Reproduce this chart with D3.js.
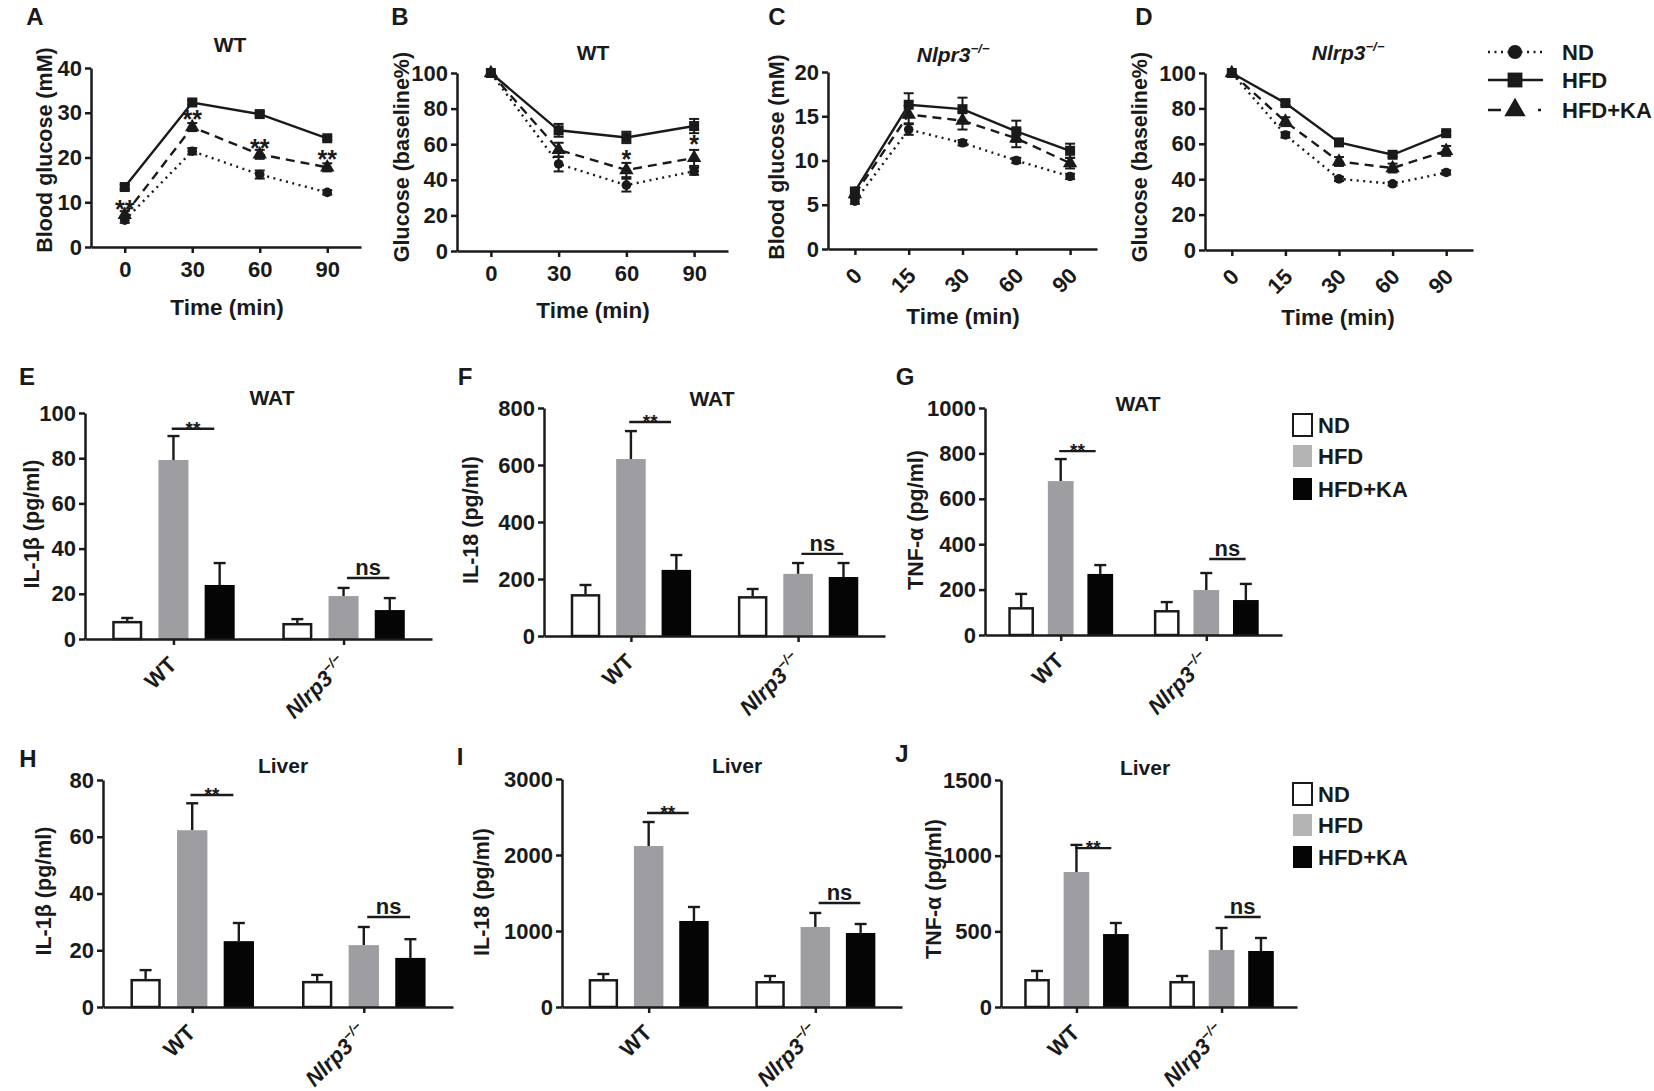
<!DOCTYPE html>
<html lang="en">
<head>
<meta charset="UTF-8">
<title>Glucose tolerance and cytokines</title>
<style>
  body { margin: 0; background: #fff; }
  svg text { font-family: "Liberation Sans", Arial, Helvetica, sans-serif; font-weight: bold; fill: #1a1a1a; }
</style>
</head>
<body>
<svg id="svg" width="1654" height="1091"></svg>

<script src="https://d3js.org/d3.v7.min.js"></script>
<script>
// ------ DATA ------------------------
const seriesNames = ['ND', 'HFD', 'HFD+KA']
const timesWT = [0, 30, 60, 90]
const timesKO = ['0', '15', '30', '60', '90']
const barGroups = ['WT', 'Nlrp3']

// A - WT blood glucose (mM)
const aTicks = [0, 10, 20, 30, 40]
const aND = [6.0, 21.4, 16.2, 12.2]
const aNDErr = [0.6, 0.7, 0.9, 0.5]
const aHFD = [13.4, 32.3, 29.7, 24.3]
const aHFDErr = [0.5, 0.5, 0.5, 0.4]
const aKA = [7.2, 26.8, 20.7, 17.8]
const aKAErr = [0.8, 0.9, 1.0, 0.9]
const aStars = [8.8, 28.9, 22.4, 19.8]

// B - WT glucose (% of baseline)
const bTicks = [0, 20, 40, 60, 80, 100]
const bND = [100, 48.9, 37.0, 44.8]
const bNDErr = [0, 4.2, 3.6, 2.0]
const bHFD = [100, 67.8, 63.8, 70.2]
const bHFDErr = [0, 3.6, 3.2, 4.0]
const bKA = [100, 56.8, 45.5, 52.3]
const bKAErr = [0, 4.0, 4.0, 4.5]
const bStars = [null, null, 52, 60.7]

// C - Nlrp3-/- blood glucose (mM)
const cTicks = [0, 5, 10, 15, 20]
const cND = [5.4, 13.5, 12.0, 10.0, 8.2]
const cNDErr = [0.3, 0.6, 0.3, 0.3, 0.3]
const cHFD = [6.5, 16.3, 15.8, 13.3, 11.1]
const cHFDErr = [0.4, 1.3, 1.3, 1.2, 0.8]
const cKA = [6.2, 15.2, 14.5, 12.5, 9.7]
const cKAErr = [0.4, 1.0, 1.0, 1.0, 0.6]

// D - Nlrp3-/- glucose (% of baseline)
const dTicks = [0, 20, 40, 60, 80, 100]
const dND = [100, 65, 40.2, 37.4, 43.8]
const dNDErr = [0, 1.5, 1.2, 1.0, 1.2]
const dHFD = [100, 83, 60.8, 53.8, 66]
const dHFDErr = [0, 1.0, 1.2, 1.2, 1.2]
const dKA = [100, 72.5, 50, 46.3, 56]
const dKAErr = [0, 2.5, 2.5, 2.5, 2.8]

// E-J bars, rows: WT, Nlrp3-/- ; columns: ND, HFD, HFD+KA
const eTicks = [0, 20, 40, 60, 80, 100]
const eMean = [[8.0, 79.2, 23.9], [7.1, 19.0, 12.8]]
const eErr = [[1.3, 10.6, 9.7], [1.7, 3.6, 5.3]]
const eSig = [93, 27]

const fTicks = [0, 200, 400, 600, 800]
const fMean = [[147, 621, 232], [140, 218, 207]]
const fErr = [[32, 98, 52], [25, 38, 49]]
const fSig = [751, 288]

const gTicks = [0, 200, 400, 600, 800, 1000]
const gMean = [[123, 678, 269], [110, 198, 154]]
const gErr = [[58, 97, 39], [35, 75, 71]]
const gSig = [810, 335]

const hTicks = [0, 20, 40, 60, 80]
const hMean = [[9.9, 62.3, 23.2], [9.2, 21.8, 17.3]]
const hErr = [[3.1, 9.5, 6.4], [2.1, 6.4, 6.6]]
const hSig = [74.7, 31.7]

const iTicks = [0, 1000, 2000, 3000]
const iMean = [[368, 2118, 1132], [342, 1053, 974]]
const iErr = [[66, 316, 184], [66, 184, 118]]
const iSig = [2553, 1368]

const jTicks = [0, 500, 1000, 1500]
const jMean = [[185, 892, 482], [172, 377, 370]]
const jErr = [[53, 179, 73], [33, 145, 86]]
const jSig = [1050, 595]

// ------ STYLE ------------------------
const INK = '#1a1a1a'
const TICK_FONT = 22
const lineStyle = {
  'ND': { dash: '2,4.5', symbol: d3.symbolCircle, size: 72 },
  'HFD': { dash: null, symbol: d3.symbolSquare, size: 100 },
  'HFD+KA': { dash: '9,6', symbol: d3.symbolTriangle, size: 90 }
}
const barFill = { 'ND': '#ffffff', 'HFD': '#9e9ea2', 'HFD+KA': '#050505' }
const legendFill = { 'ND': '#ffffff', 'HFD': '#b4b4b4', 'HFD+KA': '#050505' }

const svg = d3.select('#svg')

function styleAxis(sel) {
  sel.attr('font-size', TICK_FONT).attr('font-family', null)
  sel.select('.domain').attr('stroke', INK).attr('stroke-width', 2.5)
  sel.selectAll('.tick line').attr('stroke', INK).attr('stroke-width', 2.5)
  sel.selectAll('.tick text').attr('fill', INK)
}

function label(x, y, str, size, anchor = 'middle') {
  return svg.append('text').attr('x', x).attr('y', y)
    .attr('font-size', size).attr('text-anchor', anchor).text(str)
}

// italic gene name with a small -/- superscript
function geneText(sel, name, size) {
  sel.append('tspan').attr('font-style', 'italic').attr('font-size', size).text(name)
  sel.append('tspan').attr('font-style', 'italic').attr('font-size', size * 0.62)
    .attr('dy', -size * 0.42).text('\u2212/\u2212')
}

function yTitle(x, y, str) {
  svg.append('text').attr('transform', `translate(${x},${y}) rotate(-90)`)
    .attr('text-anchor', 'middle').attr('font-size', 21.5).text(str)
}

// ------ LINE CHARTS (A-D) ------------------------
function lineChart(c) {
  const g = svg.append('g')
  const y = d3.scaleLinear().domain([0, c.yTicks[c.yTicks.length - 1]]).range([c.bottom, c.top])
  const x = c.linear
    ? d3.scaleLinear().domain([-15, 105]).range([c.left, c.right])
    : d3.scalePoint().domain(c.times).range([c.left, c.right]).padding(0.5)

  c.series.forEach(s => {
    const st = lineStyle[s.name]
    const pts = c.times.map((t, i) => ({ x: x(t), v: s.mean[i], e: s.err[i] }))
    g.append('path').datum(pts)
      .attr('fill', 'none').attr('stroke', INK).attr('stroke-width', 2.4)
      .attr('stroke-dasharray', st.dash)
      .attr('d', d3.line().x(d => d.x).y(d => y(d.v)))
    const eb = g.append('g').attr('stroke', INK).attr('stroke-width', 2)
      .selectAll('g').data(pts.filter(d => d.e > 0)).join('g')
    eb.append('line').attr('x1', d => d.x).attr('x2', d => d.x)
      .attr('y1', d => y(d.v - d.e)).attr('y2', d => y(d.v + d.e))
    eb.append('line').attr('x1', d => d.x - 5).attr('x2', d => d.x + 5)
      .attr('y1', d => y(d.v + d.e)).attr('y2', d => y(d.v + d.e))
    eb.append('line').attr('x1', d => d.x - 5).attr('x2', d => d.x + 5)
      .attr('y1', d => y(d.v - d.e)).attr('y2', d => y(d.v - d.e))
    g.append('g').selectAll('path').data(pts).join('path')
      .attr('transform', d => `translate(${d.x},${y(d.v)})`)
      .attr('d', d3.symbol().type(st.symbol).size(st.size))
      .attr('fill', INK)
  })

  if (c.stars) {
    c.stars.forEach((v, i) => {
      if (v === null) return
      g.append('text').attr('x', x(c.times[i])).attr('y', y(v) + 10)
        .attr('text-anchor', 'middle').attr('font-size', 25).attr('font-weight', 'normal')
        .text(c.starText)
    })
  }

  const ya = g.append('g').attr('transform', `translate(${c.left},0)`)
    .call(d3.axisLeft(y).tickValues(c.yTicks).tickSize(6).tickPadding(3).tickSizeOuter(0)
      .tickFormat(d3.format('d')))
  styleAxis(ya)
  const xa = g.append('g').attr('transform', `translate(0,${c.bottom})`)
    .call(d3.axisBottom(x).tickValues(c.times).tickSize(6).tickPadding(8).tickSizeOuter(0))
  styleAxis(xa)
  if (!c.linear) {
    xa.selectAll('.tick text').attr('y', 0).attr('dy', 0).attr('text-anchor', 'end')
      .attr('transform', 'translate(8,28) rotate(-45)')
  }

  label(c.lx, c.ly, c.letter, 24)
  const t = svg.append('text').attr('x', c.tx).attr('y', c.ty).attr('text-anchor', 'middle')
  if (c.gene) geneText(t, c.title, 21)
  else t.attr('font-size', 21).text(c.title)
  yTitle(c.ytx, c.yty, c.ylabel)
  label(c.xtx, c.xty, 'Time (min)', 22.5)
}

const mk = (n, m, e) => ({ name: n, mean: m, err: e })

lineChart({ letter: 'A', lx: 35, ly: 25, title: 'WT', tx: 230, ty: 52,
  ylabel: 'Blood glucose (mM)', ytx: 52, yty: 150, xtx: 227, xty: 315,
  left: 91, right: 361, top: 68, bottom: 247, linear: true, times: timesWT, yTicks: aTicks,
  series: [mk('ND', aND, aNDErr), mk('HFD+KA', aKA, aKAErr), mk('HFD', aHFD, aHFDErr)],
  stars: aStars, starText: '**' })

lineChart({ letter: 'B', lx: 400, ly: 25, title: 'WT', tx: 593, ty: 60,
  ylabel: 'Glucose (baseline%)', ytx: 409, yty: 157, xtx: 593, xty: 318,
  left: 457, right: 728, top: 73, bottom: 251, linear: true, times: timesWT, yTicks: bTicks,
  series: [mk('ND', bND, bNDErr), mk('HFD+KA', bKA, bKAErr), mk('HFD', bHFD, bHFDErr)],
  stars: bStars, starText: '*' })

lineChart({ letter: 'C', lx: 777, ly: 25, title: 'Nlpr3', gene: true, tx: 953, ty: 62,
  ylabel: 'Blood glucose (mM)', ytx: 784, yty: 157, xtx: 963, xty: 324,
  left: 828, right: 1097, top: 72, bottom: 249, linear: false, times: timesKO, yTicks: cTicks,
  series: [mk('ND', cND, cNDErr), mk('HFD+KA', cKA, cKAErr), mk('HFD', cHFD, cHFDErr)] })

lineChart({ letter: 'D', lx: 1144, ly: 25, title: 'Nlrp3', gene: true, tx: 1348, ty: 60,
  ylabel: 'Glucose (baseline%)', ytx: 1147, yty: 157, xtx: 1338, xty: 325,
  left: 1205, right: 1473, top: 73, bottom: 250, linear: false, times: timesKO, yTicks: dTicks,
  series: [mk('ND', dND, dNDErr), mk('HFD+KA', dKA, dKAErr), mk('HFD', dHFD, dHFDErr)] })

// legend for line charts
const lineLegendDash = { 'ND': '2,4.5', 'HFD': null, 'HFD+KA': '13,37,3' }
seriesNames.forEach((s, i) => {
  const ly = [52, 80, 110][i]
  svg.append('line').attr('x1', 1488).attr('x2', 1543).attr('y1', ly).attr('y2', ly)
    .attr('stroke', INK).attr('stroke-width', 2.6).attr('stroke-dasharray', lineLegendDash[s])
  svg.append('path').attr('transform', `translate(1515,${ly})`)
    .attr('d', d3.symbol().type(lineStyle[s].symbol).size(lineStyle[s].size * 2.2))
    .attr('fill', INK)
  label(1562, ly + 8, s, 22, 'start')
})

// ------ BAR CHARTS (E-J) ------------------------
function barChart(c) {
  const g = svg.append('g')
  const y = d3.scaleLinear().domain([0, c.yTicks[c.yTicks.length - 1]]).range([c.bottom, c.top])
  const x0 = d3.scalePoint().domain(barGroups).range([c.left, c.right]).padding(0.52)
  const step = x0.step()
  const x1 = d3.scaleBand().domain(seriesNames).range([-0.36 * step, 0.36 * step]).paddingInner(0.35)
  const bw = x1.bandwidth()

  const rows = []
  barGroups.forEach((grp, gi) => seriesNames.forEach((s, si) =>
    rows.push({ grp, s, v: c.mean[gi][si], e: c.err[gi][si] })))

  // error bars (upper only)
  const eb = g.append('g').attr('stroke', INK).attr('stroke-width', 2.4)
    .selectAll('g').data(rows).join('g')
  const cx = d => x0(d.grp) + x1(d.s) + bw / 2
  eb.append('line').attr('x1', cx).attr('x2', cx)
    .attr('y1', d => y(d.v)).attr('y2', d => y(d.v + d.e))
  eb.append('line').attr('x1', d => cx(d) - 6).attr('x2', d => cx(d) + 6)
    .attr('y1', d => y(d.v + d.e)).attr('y2', d => y(d.v + d.e))

  g.append('g').selectAll('rect').data(rows).join('rect')
    .attr('x', d => x0(d.grp) + x1(d.s) + (d.s === 'ND' ? 1.25 : 0))
    .attr('width', d => d.s === 'ND' ? bw - 2.5 : bw)
    .attr('y', d => y(d.v) + (d.s === 'ND' ? 1.25 : 0))
    .attr('height', d => c.bottom - y(d.v) - (d.s === 'ND' ? 1.25 : 0))
    .attr('fill', d => barFill[d.s])
    .attr('stroke', d => d.s === 'ND' ? INK : 'none').attr('stroke-width', 2.5)

  const ya = g.append('g').attr('transform', `translate(${c.left},0)`)
    .call(d3.axisLeft(y).tickValues(c.yTicks).tickSize(6).tickPadding(3).tickSizeOuter(0)
      .tickFormat(d3.format('d')))
  styleAxis(ya)
  const xa = g.append('g').attr('transform', `translate(0,${c.bottom})`)
    .call(d3.axisBottom(x0).tickSize(6).tickSizeOuter(0).tickFormat(''))
  styleAxis(xa)
  xa.selectAll('.tick text').remove()
  xa.selectAll('.tick').append('text')
    .attr('transform', 'translate(4,27) rotate(-45)')
    .attr('text-anchor', 'end').attr('fill', INK)
    .each(function (d) {
      const t = d3.select(this)
      if (d === 'WT') t.attr('font-size', 22).text('WT')
      else geneText(t, 'Nlrp3', 22)
    })

  // significance bars
  const hc0 = x0(barGroups[0])
  const ys0 = y(c.sig[0])
  g.append('line').attr('x1', hc0 - 0.01 * step).attr('x2', hc0 + 0.24 * step)
    .attr('y1', ys0).attr('y2', ys0).attr('stroke', INK).attr('stroke-width', 2.4)
  g.append('text').attr('x', hc0 + 0.115 * step).attr('y', ys0 + 6)
    .attr('text-anchor', 'middle').attr('font-size', 19).text('**')
  const hc1 = x0(barGroups[1])
  const ys1 = y(c.sig[1])
  g.append('line').attr('x1', hc1 + 0.02 * step).attr('x2', hc1 + 0.27 * step)
    .attr('y1', ys1).attr('y2', ys1).attr('stroke', INK).attr('stroke-width', 2.4)
  g.append('text').attr('x', hc1 + 0.145 * step).attr('y', ys1 - 3)
    .attr('text-anchor', 'middle').attr('font-size', 22).text('ns')

  label(c.lx, c.ly, c.letter, 24)
  label(c.tx, c.ty, c.title, 21)
  yTitle(c.ytx, c.yty, c.ylabel)

  if (c.legendY) {
    seriesNames.forEach((s, i) => {
      const ly = c.legendY[i]
      svg.append('rect').attr('x', 1293).attr('y', ly - 11).attr('width', 19).attr('height', 22)
        .attr('fill', legendFill[s]).attr('stroke', s === 'ND' ? INK : 'none').attr('stroke-width', 2)
      label(1318, ly + 8, s, 22, 'start')
    })
  }
}

barChart({ letter: 'E', lx: 27, ly: 385, title: 'WAT', tx: 272, ty: 405, ylabel: 'IL-1\u03b2 (pg/ml)',
  ytx: 39, yty: 524, left: 85, right: 432, top: 413, bottom: 639, yTicks: eTicks,
  mean: eMean, err: eErr, sig: eSig })
barChart({ letter: 'F', lx: 465, ly: 385, title: 'WAT', tx: 712, ty: 406, ylabel: 'IL-18 (pg/ml)',
  ytx: 478, yty: 520, left: 544, right: 885, top: 408, bottom: 636, yTicks: fTicks,
  mean: fMean, err: fErr, sig: fSig })
barChart({ letter: 'G', lx: 905, ly: 385, title: 'WAT', tx: 1138, ty: 411, ylabel: 'TNF-\u03b1 (pg/ml)',
  ytx: 923, yty: 520, left: 985, right: 1282, top: 408, bottom: 635, yTicks: gTicks,
  mean: gMean, err: gErr, sig: gSig, legendY: [425, 456, 489] })
barChart({ letter: 'H', lx: 28, ly: 767, title: 'Liver', tx: 283, ty: 773, ylabel: 'IL-1\u03b2 (pg/ml)',
  ytx: 51, yty: 891, left: 103, right: 453, top: 780, bottom: 1007, yTicks: hTicks,
  mean: hMean, err: hErr, sig: hSig })
barChart({ letter: 'I', lx: 460, ly: 765, title: 'Liver', tx: 737, ty: 773, ylabel: 'IL-18 (pg/ml)',
  ytx: 489, yty: 892, left: 562, right: 902, top: 779, bottom: 1007, yTicks: iTicks,
  mean: iMean, err: iErr, sig: iSig })
barChart({ letter: 'J', lx: 902, ly: 762, title: 'Liver', tx: 1145, ty: 775, ylabel: 'TNF-\u03b1 (pg/ml)',
  ytx: 941, yty: 889, left: 1001, right: 1297, top: 780, bottom: 1007, yTicks: jTicks,
  mean: jMean, err: jErr, sig: jSig, legendY: [794, 825, 857] })
</script>
</body>
</html>
